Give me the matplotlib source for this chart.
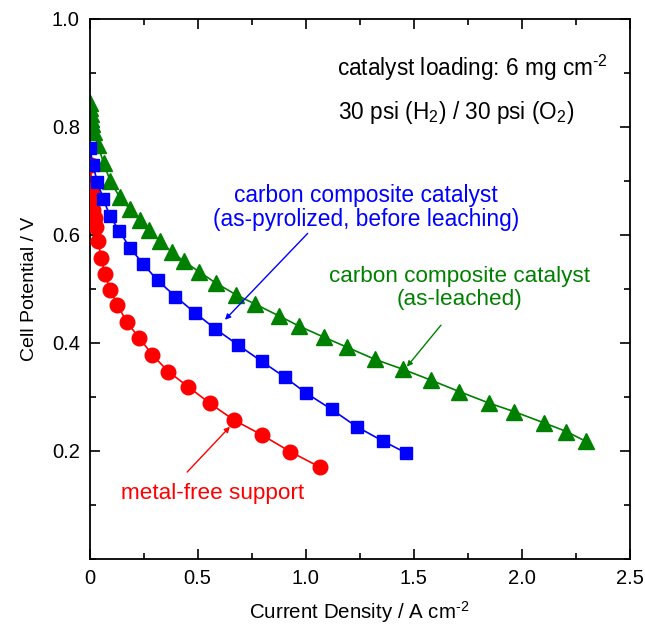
import matplotlib
matplotlib.use('Agg')
import matplotlib.pyplot as plt
from matplotlib.ticker import MultipleLocator, FixedLocator

plt.rcParams['font.family'] = ['Liberation Sans', 'DejaVu Sans']
plt.rcParams['mathtext.fontset'] = 'custom'
plt.rcParams['mathtext.rm'] = 'Liberation Sans'
plt.rcParams['mathtext.it'] = 'Liberation Sans:italic'
plt.rcParams['mathtext.bf'] = 'Liberation Sans:bold'

# polarization curves
red_x = [0.005, 0.010, 0.015, 0.018, 0.025, 0.030, 0.041, 0.053, 0.072, 0.094, 0.129,
         0.172, 0.231, 0.291, 0.365, 0.457, 0.558, 0.670, 0.797, 0.928, 1.067]
red_y = [0.730, 0.683, 0.665, 0.646, 0.631, 0.615, 0.588, 0.557, 0.527, 0.499, 0.471,
         0.439, 0.409, 0.378, 0.347, 0.319, 0.288, 0.257, 0.230, 0.199, 0.170]

blue_x = [0.002, 0.015, 0.036, 0.064, 0.095, 0.138, 0.188, 0.249, 0.315, 0.398, 0.488,
          0.583, 0.689, 0.797, 0.903, 1.004, 1.121, 1.237, 1.360, 1.463]
blue_y = [0.761, 0.730, 0.699, 0.666, 0.635, 0.607, 0.576, 0.546, 0.516, 0.486, 0.456,
          0.426, 0.396, 0.366, 0.337, 0.307, 0.277, 0.245, 0.218, 0.197]

green_x = [0.002, 0.004, 0.006, 0.009, 0.013, 0.020, 0.040, 0.065, 0.096, 0.140, 0.186,
           0.233, 0.275, 0.327, 0.380, 0.438, 0.507, 0.585, 0.680, 0.767, 0.878, 0.972,
           1.084, 1.193, 1.320, 1.453, 1.582, 1.712, 1.848, 1.965, 2.105, 2.208, 2.297]
green_y = [0.845, 0.835, 0.825, 0.815, 0.805, 0.790, 0.766, 0.733, 0.700, 0.670, 0.648,
           0.627, 0.609, 0.588, 0.569, 0.551, 0.532, 0.511, 0.489, 0.472, 0.450, 0.431,
           0.411, 0.392, 0.370, 0.351, 0.331, 0.310, 0.289, 0.273, 0.252, 0.236, 0.218]

x_ticks = [0, 0.5, 1.0, 1.5, 2.0, 2.5]
x_labels = ['0', '0.5', '1.0', '1.5', '2.0', '2.5']
y_ticks = [0.2, 0.4, 0.6, 0.8, 1.0]
y_labels = ['0.2', '0.4', '0.6', '0.8', '1.0']

RED = '#ff0000'
BLUE = '#0000ff'
GREEN = '#008000'

fig = plt.figure(figsize=(6.45, 6.25), dpi=100)
ax = fig.add_axes([0.1388, 0.1056, 0.8372, 0.864])

ax.plot(red_x, red_y, '-o', color=RED, ms=10.5, lw=1.2, zorder=3)
ax.plot(blue_x, blue_y, '-s', color=BLUE, ms=8.5, lw=1.2, zorder=4)
ax.plot(green_x, green_y, '-^', color=GREEN, ms=11.5, lw=1.2, zorder=2)

ax.set_xlim(0, 2.5)
ax.set_ylim(0, 1.0)
ax.xaxis.set_major_locator(FixedLocator(x_ticks))
ax.set_xticklabels(x_labels)
ax.xaxis.set_minor_locator(MultipleLocator(0.25))
ax.yaxis.set_major_locator(FixedLocator(y_ticks))
ax.set_yticklabels(y_labels)
ax.yaxis.set_minor_locator(MultipleLocator(0.1))
ax.tick_params(which='both', direction='in', top=True, right=True, width=1.2)
ax.tick_params(which='major', length=7, labelsize=14.5, pad=7)
ax.tick_params(which='minor', length=4)
for s in ax.spines.values():
    s.set_linewidth(1.3)

ax.set_xlabel(r'Current Density / A cm$^{\text{-}2}$', fontsize=14.8, labelpad=8)
ax.set_ylabel('Cell Potential / V', fontsize=14, labelpad=10)

# text in the upper right
ax.text(1.146, 0.909, r'catalyst loading: 6 mg cm$^{\text{-}2}$', fontsize=16.3, va='center')
ax.text(1.152, 0.826, r'30 psi (H$_2$) / 30 psi (O$_2$)', fontsize=16.3, va='center')

arrow_kw = dict(arrowstyle='-|>', lw=1.0, mutation_scale=8, shrinkA=0, shrinkB=0)

ax.text(1.28, 0.651, 'carbon composite catalyst\n(as-pyrolized, before leaching)',
        color=BLUE, fontsize=16.4, ha='center', va='center', linespacing=1.1)
ax.annotate('', xy=(0.627, 0.443), xytext=(1.010, 0.603),
            arrowprops=dict(color=BLUE, **arrow_kw))

ax.text(1.715, 0.502, 'carbon composite catalyst\n(as-leached)',
        color=GREEN, fontsize=16.2, ha='center', va='center', linespacing=1.1)
ax.annotate('', xy=(1.469, 0.356), xytext=(1.627, 0.433),
            arrowprops=dict(color=GREEN, **arrow_kw))

ax.text(0.57, 0.121, 'metal-free support', color=RED, fontsize=16.2,
        ha='center', va='center')
ax.annotate('', xy=(0.650, 0.245), xytext=(0.452, 0.161),
            arrowprops=dict(color=RED, **arrow_kw))

fig.savefig('out.png', dpi=100)
